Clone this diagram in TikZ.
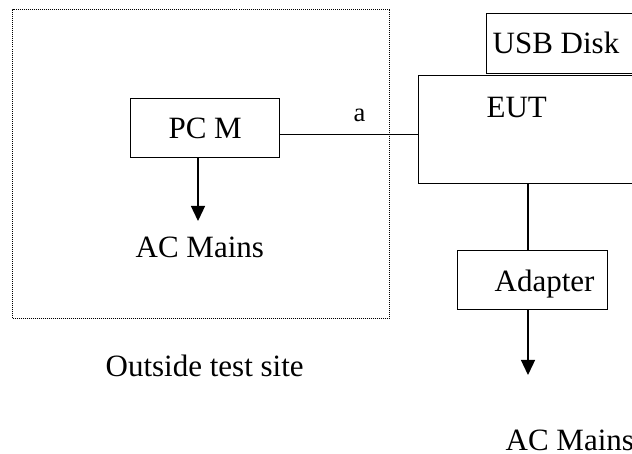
\documentclass[tikz,border=0pt]{standalone}
\usepackage{fontspec}
\setmainfont{Liberation Serif}
\usetikzlibrary{arrows.meta}
\begin{document}
\begin{tikzpicture}[x=0.5pt,y=-0.5pt,
  line width=0.65pt,
  box node/.style={rectangle,draw,inner sep=0pt,anchor=north west},
  text node/.style={inner sep=0pt,font=\fontsize{15.5}{18}\selectfont},
  site node/.style={rectangle,draw,line width=0.5pt,dash pattern=on 0.5pt off 0.5pt,inner sep=0pt,anchor=north west},
  arrow/.style={-{Triangle[width=7pt,length=7.5pt]}}]

  \useasboundingbox (0,0) rectangle (632,454);
  \clip (0,0) rectangle (632,454);

  \node[site node,minimum width=188.5pt,minimum height=154.5pt] (site) at (12,9) {};
  \node[box node,text node,minimum width=74.5pt,minimum height=29.5pt] (pcm) at (130,98) {PC M};
  \node[box node,minimum width=113.5pt,minimum height=54pt] (eut) at (418,75) {};
  \node[box node,minimum width=79.5pt,minimum height=30pt] (usb) at (486,13) {};
  \node[box node,minimum width=75pt,minimum height=29.5pt] (adapter) at (457,250) {};

  \node[text node,anchor=base west] (usbtext) at (492,54) {USB Disk};
  \node[text node,anchor=base west] (euttext) at (486,118) {EUT};
  \node[text node,anchor=base west] (adaptertext) at (494,292) {Adapter};
  \node[text node,anchor=base west] (mainsA) at (135,258) {AC Mains};
  \node[text node,anchor=base west] (mainsB) at (505,450) {AC Mains};
  \node[text node,anchor=base west] (sitetext) at (105,377) {Outside test site};

  \coordinate (tipA) at (198,221);
  \coordinate (tipB) at (528,375);

  \path[every node/.style={inner sep=0pt,font=\fontsize{13.3}{16}\selectfont}]
   (pcm.south -| tipA) edge[arrow] (tipA)
   ([yshift=-3.25pt]pcm.east) edge node[above=6pt,pos=0.576]{a} ([yshift=-3.25pt]pcm.east -| eut.west)
   (eut.south -| tipB) edge (adapter.north -| tipB)
   (adapter.south -| tipB) edge[arrow] (tipB);

\end{tikzpicture}
\end{document}
